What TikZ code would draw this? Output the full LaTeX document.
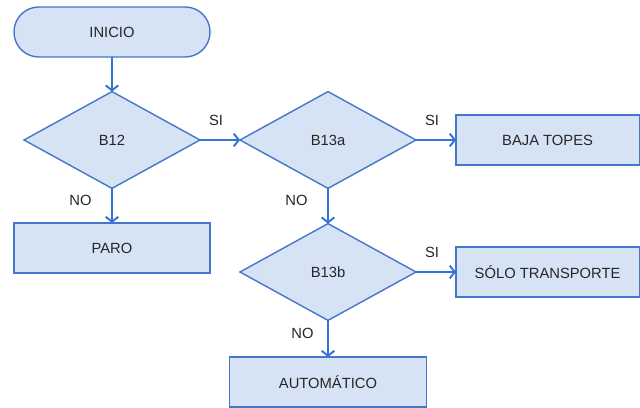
\documentclass[tikz,border=0pt]{standalone}
\usepackage{fontspec}
\setmainfont{Liberation Sans}
\usetikzlibrary{shapes.geometric,arrows.meta,positioning}
\definecolor{BoxFill}{RGB}{214,227,245}
\definecolor{BoxLine}{RGB}{70,118,200}
\definecolor{ArrowBlue}{RGB}{52,116,214}
\tikzset{
  base/.style={draw=BoxLine,fill=BoxFill,line width=1pt,outer sep=0pt,
               font=\fontsize{10.5}{12}\selectfont,text=black!85,text centered},
  startbox/.style={base,rounded corners=0.62cm,minimum width=4.9cm,minimum height=1.25cm},
  procbox/.style={base,minimum width=4.9cm,minimum height=1.25cm},
  decbox/.style={base,diamond,aspect=1.83,inner sep=0pt,
                 minimum width=4.4cm,minimum height=2.42cm},
  arr/.style={-{Straight Barb[length=3.5pt,width=9pt]},ArrowBlue,line width=1.4pt},
  lbl/.style={font=\fontsize{10.5}{12}\selectfont,text=black!85,inner sep=1pt},
}
\begin{document}
\begin{tikzpicture}
    \useasboundingbox (0,0) rectangle (16,-10.2);

    % Nodes
    \node[startbox] (inicio) at (2.8,-0.8) {INICIO};
    \node[decbox] (b12) at (2.8,-3.5) {B12};
    \node[decbox] (b13a) at (8.2,-3.5) {B13a};
    \node[procbox, minimum width=4.58cm] (baja) at (13.69,-3.5) {BAJA TOPES};
    \node[procbox] (paro) at (2.8,-6.2) {PARO};
    \node[decbox] (b13b) at (8.2,-6.8) {B13b};
    \node[procbox, minimum width=4.58cm] (solo) at (13.69,-6.8) {SÓLO TRANSPORTE};
    \node[procbox, minimum width=4.92cm] (auto) at (8.2,-9.55) {AUTOMÁTICO};

    % Connectors
    \draw[arr] (inicio) -- (b12);
    \draw[arr] (b12.east) -- node[lbl, pos=0.4, above=0.3cm] {SI} (b13a.west);
    \draw[arr] (b13a.east) -- node[lbl, pos=0.4, above=0.3cm] {SI} (baja.west);
    \draw[arr] (b12.south) -- node[lbl, pos=0.35, left=0.45cm] {NO} (paro.north);
    \draw[arr] (b13a.south) -- node[lbl, pos=0.35, left=0.45cm] {NO} (b13b.north);
    \draw[arr] (b13b.east) -- node[lbl, pos=0.4, above=0.3cm] {SI} (solo.west);
    \draw[arr] (b13b.south) -- node[lbl, pos=0.35, left=0.3cm] {NO} (auto.north);

\end{tikzpicture}
\end{document}
